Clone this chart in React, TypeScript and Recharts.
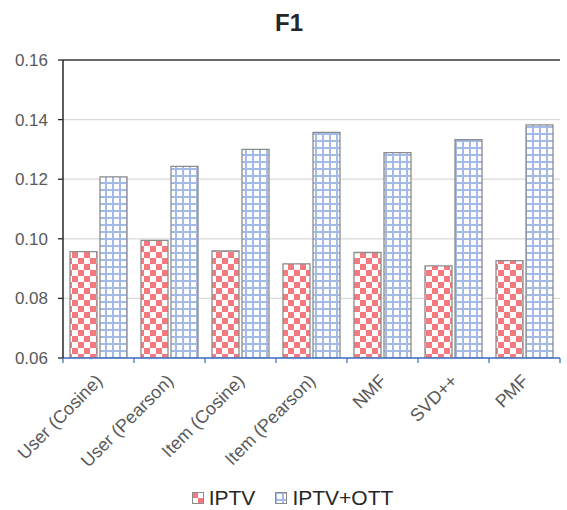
import { BarChart, Bar, XAxis, YAxis, CartesianGrid, ReferenceLine } from "recharts";

const categories = ["User (Cosine)", "User (Pearson)", "Item (Cosine)", "Item (Pearson)", "NMF", "SVD++", "PMF"];
const iptv = [0.0957, 0.0995, 0.0959, 0.0916, 0.0954, 0.0909, 0.0927];
const iptvOtt = [0.1208, 0.1243, 0.13, 0.1357, 0.1289, 0.1333, 0.1382];
const yTicks = [0.06, 0.08, 0.1, 0.12, 0.14, 0.16];

const FONT = '"Liberation Sans", Arial, sans-serif';
const BAND = 497 / 7;

const data = categories.map((name, i) => ({ name, iptv: iptv[i], iptvOtt: iptvOtt[i] }));

function Patterns({ suffix = "" }: { suffix?: string }) {
  return (
    <defs>
      <pattern id={"checker" + suffix} patternUnits="userSpaceOnUse" width={12} height={12}>
        <rect width={12} height={12} fill="#fff" />
        <rect width={6} height={6} fill="#f47a80" />
        <rect x={6} y={6} width={6} height={6} fill="#f47a80" />
      </pattern>
      <pattern id={"grid" + suffix} patternUnits="userSpaceOnUse" width={7} height={7}>
        <rect width={7} height={7} fill="#fff" />
        <rect width={7} height={2} fill="#a3b9e6" />
        <rect width={2} height={7} fill="#a3b9e6" />
      </pattern>
    </defs>
  );
}

// ticks sit between categories like the original, labels rotated
function CategoryTick(props: any) {
  const { x, y, payload, index } = props;
  const tx = x + 5;
  const ty = y + 24;
  return (
    <g>
      <line x1={x - BAND / 2} x2={x - BAND / 2} y1={y} y2={y + 5} stroke="#4472c4" strokeWidth={1.3} />
      {index === categories.length - 1 && (
        <line x1={x + BAND / 2} x2={x + BAND / 2} y1={y} y2={y + 5} stroke="#4472c4" strokeWidth={1.3} />
      )}
      <text x={tx} y={ty} textAnchor="end" transform={`rotate(-45 ${tx} ${ty})`} fill="#595959" fontSize={18} fontFamily={FONT}>
        {payload.value}
      </text>
    </g>
  );
}

function Swatch({ fill, id }: { fill: string; id: string }) {
  return (
    <svg width={12} height={12} style={{ display: "block" }}>
      <Patterns suffix={id} />
      <rect x={0.5} y={0.5} width={11} height={11} fill={fill} stroke="#8c8c8c" strokeWidth={1} />
    </svg>
  );
}

export default function App() {
  return (
    <div style={{ position: "absolute", left: 0, top: 0, width: 567, height: 510, background: "#fff", fontFamily: FONT }}>
      <div style={{ position: "absolute", top: 11, left: 0, width: 578, textAlign: "center", fontSize: 24, lineHeight: "24px", fontWeight: "bold", color: "#262626" }}>
        F1
      </div>
      <BarChart
        width={567}
        height={510}
        data={data}
        margin={{ top: 60, right: 7, bottom: 24, left: 0 }}
        barCategoryGap={7}
        barGap={3}
      >
        <Patterns />
        <CartesianGrid yAxisId="left" vertical={false} stroke="#d9d9d9" strokeWidth={1.3} />
        <XAxis
          dataKey="name"
          height={128}
          interval={0}
          tickSize={0}
          tickMargin={0}
          tickLine={false}
          axisLine={{ stroke: "#4472c4", strokeWidth: 1.5 }}
          tick={<CategoryTick />}
        />
        <YAxis
          yAxisId="left"
          width={63}
          domain={[0.06, 0.16]}
          ticks={yTicks}
          allowDataOverflow
          tickFormatter={(v: number) => v.toFixed(2)}
          tickSize={5}
          tickMargin={10}
          tickLine={{ stroke: "#262626", strokeWidth: 1.3 }}
          axisLine={{ stroke: "#262626", strokeWidth: 1.5 }}
          tick={{ fill: "#595959", fontSize: 17, fontFamily: FONT }}
        />
        <YAxis
          yAxisId="right"
          orientation="right"
          width={0}
          domain={[0, 1]}
          tick={false}
          tickLine={false}
          axisLine={{ stroke: "#404040", strokeWidth: 1.5 }}
        />
        <ReferenceLine yAxisId="left" y={0.16} stroke="#404040" strokeWidth={1.5} />
        <Bar yAxisId="left" dataKey="iptv" barSize={27} fill="url(#checker)" stroke="#8c8c8c" strokeWidth={1.3} isAnimationActive={false} />
        <Bar yAxisId="left" dataKey="iptvOtt" barSize={27} fill="url(#grid)" stroke="#8c8c8c" strokeWidth={1.3} isAnimationActive={false} />
      </BarChart>
      <div style={{ position: "absolute", left: 9, top: 486, width: 567, height: 24, display: "flex", justifyContent: "center", alignItems: "center", fontSize: 21, color: "#262626" }}>
        <Swatch fill="url(#checkerL)" id="L" />
        <span style={{ marginLeft: 5, marginRight: 20 }}>IPTV</span>
        <Swatch fill="url(#gridL2)" id="L2" />
        <span style={{ marginLeft: 5 }}>IPTV+OTT</span>
      </div>
    </div>
  );
}
